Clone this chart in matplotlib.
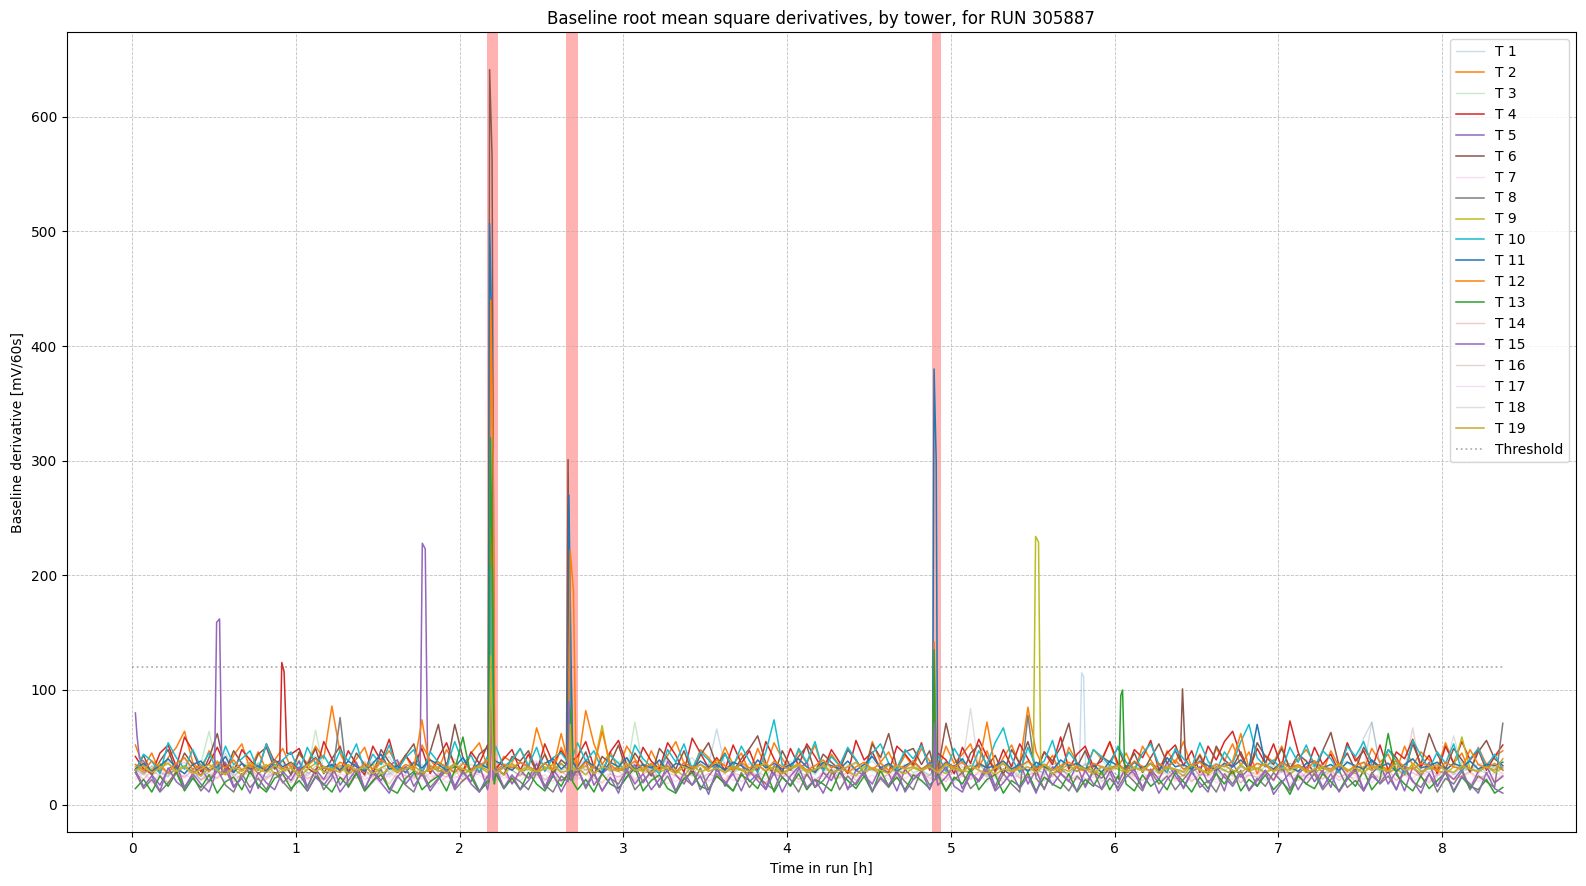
import numpy as np
import matplotlib
matplotlib.use("Agg")
import matplotlib.pyplot as plt
from matplotlib.ticker import MultipleLocator

# sampling grid of the baseline values [h]
t_grid = np.round(0.02 + 0.05 * np.arange(168), 3)

# baseline derivative per tower [mV/60s], one value per grid step
t1 = [30, 26, 33, 28, 24, 35, 31, 27, 22, 29, 38, 32, 26, 30, 41, 28, 24, 33, 36, 27, 31, 25, 34, 29,
      27, 35, 30, 23, 32, 38, 28, 26, 31, 44, 29, 25, 33, 30, 27, 36, 24, 31, 28, 34, 30, 26, 32, 37,
      29, 25, 33, 28, 35, 30, 26, 38, 31, 27, 34, 29, 24, 32, 36, 28, 30, 41, 27, 33, 29, 25, 35, 66,
      34, 28, 31, 26, 33, 30, 37, 27, 32, 29, 25, 34, 31, 28, 36, 30, 26, 33, 29, 38, 27, 31, 35, 28,
      30, 26, 34, 29, 32, 27, 36, 31, 25, 33, 30, 28, 35, 29, 32, 26, 38, 30, 27, 33, 31, 28, 34, 29,
      26, 32, 37, 29, 31, 27, 35, 30, 28, 33, 25, 31, 36, 29, 27, 34, 30, 32, 26, 38, 31, 28, 33, 29,
      35, 27, 30, 33, 28, 31, 58, 72, 34, 29, 32, 27, 36, 30, 28, 34, 31, 26, 33, 29, 35, 28, 31, 27]
t2 = [52, 33, 45, 28, 41, 50, 64, 37, 29, 47, 35, 27, 43, 53, 31, 46, 30, 39, 49, 32, 44, 36, 51, 40,
      86, 45, 30, 40, 50, 28, 38, 47, 34, 43, 29, 52, 39, 31, 48, 36, 27, 45, 54, 33, 30, 42, 37, 49,
      32, 67, 44, 29, 50, 39, 34, 82, 53, 35, 46, 30, 51, 40, 28, 47, 33, 43, 55, 36, 29, 48, 41, 31,
      50, 35, 45, 28, 49, 33, 54, 40, 30, 47, 36, 52, 29, 44, 34, 48, 39, 27, 55, 37, 46, 30, 43, 33,
      49, 38, 29, 51, 36, 44, 53, 32, 47, 28, 41, 52, 35, 85, 46, 31, 43, 27, 50, 37, 30, 48, 40, 54,
      33, 45, 29, 51, 39, 28, 47, 36, 55, 32, 44, 30, 49, 38, 53, 34, 46, 27, 43, 37, 51, 31, 40, 48,
      36, 28, 47, 33, 52, 41, 30, 49, 37, 44, 29, 51, 34, 46, 39, 31, 54, 36, 45, 28, 50, 35, 42, 47]
t3 = [28, 34, 25, 31, 38, 27, 33, 29, 36, 64, 30, 26, 35, 31, 24, 37, 29, 33, 27, 32, 39, 28, 65, 30,
      26, 33, 29, 36, 25, 31, 38, 27, 34, 30, 24, 35, 29, 32, 37, 26, 33, 28, 31, 36, 27, 34, 30, 25,
      33, 29, 37, 28, 31, 26, 35, 30, 34, 27, 32, 38, 29, 72, 33, 27, 31, 36, 28, 34, 30, 26, 35, 29,
      32, 27, 36, 30, 25, 34, 29, 33, 38, 28, 31, 26, 35, 30, 27, 33, 29, 36, 31, 25, 34, 28, 32, 37,
      29, 33, 26, 31, 35, 28, 30, 36, 27, 34, 29, 32, 25, 37, 30, 28, 33, 31, 26, 35, 29, 34, 27, 32,
      36, 28, 31, 33, 27, 35, 30, 26, 34, 29, 32, 37, 28, 31, 25, 33, 30, 36, 27, 34, 29, 32, 28, 35,
      30, 26, 33, 29, 37, 31, 27, 34, 28, 32, 36, 29, 31, 26, 35, 30, 33, 28, 37, 29, 31, 27, 34, 30]
t4 = [42, 31, 27, 45, 52, 33, 59, 47, 29, 36, 50, 34, 28, 48, 39, 30, 53, 37, 28, 44, 49, 32, 27, 55,
      40, 29, 47, 35, 26, 51, 38, 57, 30, 43, 33, 49, 27, 41, 54, 34, 29, 46, 36, 52, 31, 40, 48, 30,
      44, 28, 53, 36, 47, 30, 42, 55, 33, 27, 46, 56, 35, 29, 50, 38, 31, 54, 43, 28, 58, 45, 32, 41,
      30, 52, 36, 47, 29, 55, 40, 28, 49, 34, 53, 42, 30, 48, 37, 27, 56, 39, 46, 31, 28, 51, 44, 35,
      54, 30, 45, 39, 27, 50, 36, 57, 42, 29, 48, 33, 53, 40, 28, 46, 35, 59, 31, 44, 51, 33, 38, 55,
      36, 29, 48, 41, 56, 30, 45, 52, 34, 47, 28, 51, 39, 55, 64, 43, 30, 49, 36, 53, 32, 73, 46, 29,
      50, 35, 44, 28, 54, 38, 47, 31, 52, 30, 46, 40, 57, 33, 43, 27, 51, 36, 55, 39, 48, 30, 42, 52]
t5 = [80, 38, 26, 17, 31, 36, 15, 27, 33, 20, 29, 37, 16, 24, 34, 14, 30, 35, 19, 26, 38, 15, 31, 22,
      35, 17, 28, 37, 13, 30, 21, 34, 39, 18, 27, 14, 32, 24, 36, 16, 29, 20, 35, 13, 28, 33, 18, 30,
      23, 36, 15, 31, 21, 12, 29, 38, 17, 27, 34, 14, 24, 35, 19, 30, 15, 38, 26, 18, 32, 13, 25, 34,
      16, 30, 36, 20, 27, 14, 34, 24, 17, 31, 37, 15, 28, 21, 35, 13, 30, 25, 18, 33, 27, 12, 31, 22,
      29, 37, 17, 24, 34, 14, 28, 21, 36, 16, 31, 25, 38, 18, 30, 13, 33, 27, 20, 35, 15, 29, 23, 32,
      18, 34, 27, 14, 31, 22, 37, 25, 15, 29, 33, 19, 28, 12, 36, 24, 31, 16, 30, 21, 35, 14, 27, 33,
      20, 30, 15, 36, 24, 32, 13, 27, 35, 18, 29, 12, 33, 25, 37, 16, 28, 22, 31, 14, 29, 34, 19, 25]
t6 = [30, 43, 26, 38, 48, 28, 45, 35, 25, 41, 62, 29, 47, 36, 27, 44, 50, 31, 39, 26, 46, 34, 49, 27,
      40, 51, 28, 45, 35, 26, 48, 37, 30, 43, 53, 27, 46, 70, 32, 70, 41, 28, 44, 50, 33, 26, 42, 38,
      47, 30, 44, 27, 39, 50, 33, 46, 26, 42, 36, 52, 29, 45, 35, 25, 49, 40, 31, 47, 28, 43, 54, 34,
      45, 29, 40, 49, 60, 36, 26, 47, 33, 42, 51, 28, 44, 37, 30, 48, 39, 27, 53, 41, 62, 32, 46, 49,
      35, 47, 30, 71, 41, 27, 45, 52, 33, 43, 26, 48, 36, 55, 31, 46, 38, 50, 71, 33, 47, 29, 42, 37,
      50, 32, 45, 28, 41, 53, 36, 47, 48, 30, 43, 26, 51, 39, 33, 46, 29, 54, 42, 35, 49, 31, 44, 38,
      27, 47, 63, 34, 45, 30, 50, 38, 32, 48, 41, 28, 53, 35, 62, 44, 31, 49, 39, 29, 46, 56, 40, 34]
t7 = [22, 27, 19, 25, 30, 21, 26, 23, 28, 18, 24, 31, 22, 26, 20, 27, 23, 29, 21, 25, 18, 28, 24, 22,
      26, 20, 29, 23, 25, 19, 27, 24, 30, 21, 26, 22, 28, 18, 25, 23, 27, 20, 29, 24, 22, 26, 19, 28,
      23, 27, 21, 25, 30, 22, 24, 19, 28, 26, 20, 25, 23, 29, 21, 27, 24, 18, 26, 22, 28, 25, 20, 24,
      27, 21, 25, 29, 23, 19, 26, 24, 28, 22, 25, 20, 30, 23, 27, 21, 24, 26, 19, 28, 22, 25, 29, 23,
      20, 26, 24, 28, 21, 25, 23, 27, 19, 29, 22, 26, 24, 21, 28, 25, 20, 27, 23, 30, 22, 24, 26, 19,
      25, 28, 22, 24, 27, 20, 26, 23, 29, 21, 25, 28, 19, 24, 22, 27, 25, 30, 21, 26, 23, 18, 27, 24,
      22, 26, 29, 21, 25, 23, 27, 19, 28, 24, 22, 26, 20, 25, 29, 23, 21, 27, 24, 18, 26, 22, 28, 25]
t8 = [28, 14, 22, 11, 19, 29, 15, 25, 12, 21, 31, 17, 11, 27, 15, 23, 13, 28, 20, 12, 26, 16, 30, 13,
      23, 76, 15, 27, 12, 20, 31, 13, 25, 17, 11, 29, 15, 23, 32, 13, 21, 27, 12, 19, 30, 14, 25, 20,
      13, 28, 17, 11, 25, 20, 31, 14, 27, 12, 23, 18, 30, 13, 21, 28, 15, 25, 11, 23, 17, 32, 13, 27,
      20, 12, 28, 15, 25, 18, 13, 30, 22, 11, 27, 15, 21, 31, 13, 25, 17, 29, 12, 23, 15, 28, 20, 13,
      30, 17, 25, 12, 22, 28, 14, 21, 32, 13, 27, 18, 11, 78, 23, 14, 28, 20, 12, 25, 17, 30, 13, 23,
      15, 27, 20, 12, 29, 18, 25, 13, 22, 31, 15, 21, 11, 27, 18, 30, 13, 23, 16, 28, 20, 12, 26, 18,
      27, 13, 22, 30, 15, 21, 12, 28, 18, 25, 13, 31, 20, 15, 27, 11, 23, 18, 29, 13, 25, 20, 15, 71]
t9 = [33, 28, 31, 36, 27, 30, 34, 29, 25, 32, 38, 28, 31, 26, 33, 30, 35, 27, 29, 32, 24, 31, 36, 28,
      30, 34, 27, 31, 29, 35, 26, 32, 28, 33, 30, 25, 34, 29, 31, 36, 27, 30, 33, 28, 32, 26, 35, 29,
      31, 27, 33, 30, 36, 28, 32, 26, 34, 69, 30, 33, 27, 31, 29, 35, 28, 32, 30, 25, 34, 29, 31, 37,
      28, 32, 30, 26, 35, 29, 33, 27, 31, 34, 28, 30, 36, 27, 32, 29, 25, 33, 31, 28, 35, 30, 27, 32,
      29, 34, 31, 27, 33, 30, 28, 36, 32, 26, 31, 29, 34, 30, 28, 33, 27, 31, 35, 29, 32, 30, 26, 34,
      31, 28, 33, 29, 36, 27, 32, 30, 25, 34, 31, 28, 33, 30, 27, 35, 29, 32, 28, 31, 36, 26, 33, 30,
      28, 32, 29, 35, 31, 27, 33, 30, 34, 28, 31, 26, 36, 29, 32, 30, 27, 33, 59, 31, 29, 34, 28, 32]
t10 = [30, 44, 38, 27, 54, 41, 31, 48, 33, 45, 29, 51, 35, 40, 47, 30, 53, 34, 39, 46, 28, 50, 36, 43,
       31, 47, 38, 53, 29, 44, 35, 52, 30, 41, 48, 27, 46, 37, 32, 55, 36, 43, 28, 42, 51, 33, 39, 49,
       34, 50, 29, 41, 45, 31, 54, 38, 47, 30, 43, 36, 28, 52, 40, 33, 27, 48, 37, 53, 31, 46, 39, 29,
       44, 33, 51, 38, 28, 46, 74, 35, 30, 49, 37, 55, 29, 42, 34, 50, 39, 27, 45, 53, 36, 31, 48, 40,
       52, 32, 43, 29, 49, 37, 30, 47, 35, 54, 67, 41, 28, 50, 33, 38, 56, 31, 46, 36, 29, 48, 42, 34,
       51, 37, 30, 45, 53, 35, 28, 49, 40, 32, 54, 38, 29, 46, 36, 55, 70, 41, 33, 39, 30, 50, 37, 52,
       33, 47, 40, 28, 51, 42, 55, 35, 30, 48, 38, 27, 56, 43, 31, 46, 36, 53, 29, 40, 49, 33, 44, 30]
t11 = [31, 36, 29, 34, 40, 32, 27, 35, 38, 30, 33, 42, 28, 36, 31, 34, 29, 39, 33, 37, 30, 35, 41, 32,
       35, 30, 38, 33, 29, 36, 44, 31, 34, 28, 37, 32, 39, 35, 30, 33, 41, 29, 36, 32, 38, 34, 30, 37,
       33, 29, 36, 40, 31, 35, 30, 38, 34, 28, 37, 33, 41, 30, 35, 32, 39, 29, 36, 34, 31, 38, 33, 35,
       30, 37, 34, 29, 39, 32, 36, 31, 35, 40, 33, 28, 37, 34, 31, 38, 30, 35, 42, 32, 36, 29, 34, 38,
       31, 35, 30, 37, 33, 40, 29, 36, 32, 34, 38, 31, 35, 29, 37, 33, 30, 39, 34, 36, 31, 35, 28, 38,
       34, 30, 37, 32, 36, 29, 41, 33, 35, 31, 38, 34, 30, 36, 33, 39, 32, 70, 35, 31, 37, 33, 29, 36,
       38, 32, 35, 30, 37, 34, 31, 39, 33, 36, 29, 35, 40, 32, 34, 37, 30, 36, 33, 38, 31, 35, 34, 37]
t12 = [35, 30, 38, 33, 28, 36, 41, 31, 34, 29, 37, 32, 39, 30, 35, 27, 33, 38, 31, 36, 29, 34, 40, 32,
       30, 37, 33, 28, 36, 31, 39, 34, 29, 35, 32, 74, 30, 37, 33, 28, 36, 31, 34, 39, 30, 35, 32, 37,
       33, 29, 36, 31, 62, 34, 30, 37, 32, 64, 35, 29, 33, 38, 31, 36, 30, 34, 28, 37, 32, 35, 31, 39,
       34, 30, 37, 32, 35, 29, 38, 33, 31, 36, 30, 34, 39, 32, 35, 28, 33, 37, 31, 36, 30, 34, 32, 38,
       31, 35, 29, 36, 33, 37, 30, 34, 72, 32, 36, 29, 33, 38, 31, 35, 30, 34, 37, 32, 29, 36, 33, 31,
       35, 30, 38, 33, 29, 36, 32, 39, 31, 34, 37, 30, 35, 33, 38, 62, 31, 36, 34, 29, 37, 32, 35, 30,
       38, 33, 31, 36, 29, 34, 37, 32, 35, 30, 39, 33, 31, 36, 34, 29, 37, 33, 31, 48, 35, 32, 36, 30]
t13 = [14, 22, 11, 25, 16, 28, 12, 23, 15, 26, 10, 20, 24, 13, 29, 17, 11, 23, 27, 14, 21, 12, 25, 18,
       11, 24, 16, 28, 12, 21, 26, 14, 10, 23, 29, 13, 20, 25, 12, 30, 59, 24, 11, 21, 27, 14, 23, 13,
       28, 18, 12, 25, 16, 30, 13, 22, 11, 27, 18, 14, 24, 32, 12, 21, 26, 14, 10, 23, 28, 16, 13, 25,
       18, 12, 26, 21, 14, 29, 11, 24, 16, 27, 13, 22, 18, 12, 28, 21, 14, 25, 11, 30, 16, 24, 13, 26,
       21, 14, 27, 12, 24, 18, 31, 13, 22, 26, 10, 21, 16, 28, 12, 24, 18, 14, 27, 11, 22, 16, 29, 13,
       25, 18, 12, 26, 16, 22, 13, 28, 20, 11, 24, 14, 27, 18, 30, 12, 22, 16, 26, 13, 21, 9, 25, 18,
       14, 27, 20, 12, 24, 16, 30, 13, 22, 62, 26, 18, 12, 25, 14, 21, 28, 11, 24, 16, 13, 22, 10, 15]
t14 = [27, 22, 30, 25, 19, 28, 24, 31, 21, 26, 23, 29, 20, 27, 32, 24, 22, 28, 25, 19, 30, 23, 26, 21,
       29, 24, 20, 27, 31, 22, 26, 18, 28, 25, 23, 30, 21, 27, 24, 32, 20, 26, 29, 22, 25, 28, 19, 27,
       24, 30, 22, 26, 20, 28, 25, 31, 23, 19, 27, 24, 29, 21, 26, 33, 22, 28, 25, 20, 30, 23, 27, 24,
       21, 28, 25, 30, 23, 19, 27, 24, 31, 22, 26, 20, 28, 25, 23, 29, 21, 27, 32, 24, 26, 22, 30, 25,
       28, 23, 26, 20, 31, 25, 22, 29, 24, 27, 19, 30, 23, 26, 28, 21, 25, 32, 24, 22, 27, 30, 20, 26,
       23, 29, 25, 21, 28, 24, 31, 22, 26, 20, 27, 25, 30, 23, 28, 19, 26, 24, 29, 22, 31, 25, 21, 28,
       26, 22, 30, 24, 27, 20, 29, 25, 23, 31, 21, 26, 28, 24, 19, 27, 30, 22, 25, 29, 23, 26, 20, 24]
t15 = [30, 16, 25, 12, 32, 20, 14, 27, 18, 11, 25, 31, 15, 23, 10, 28, 19, 13, 29, 21, 33, 12, 24, 17,
       27, 11, 21, 31, 14, 28, 19, 10, 24, 33, 16, 27, 12, 22, 30, 14, 29, 18, 11, 25, 32, 15, 26, 13,
       21, 30, 14, 27, 11, 19, 32, 16, 28, 12, 24, 10, 31, 18, 27, 13, 22, 30, 12, 28, 17, 25, 9, 31,
       18, 27, 12, 29, 21, 13, 28, 11, 25, 33, 15, 22, 10, 27, 31, 14, 19, 29, 12, 24, 17, 30, 11, 22,
       29, 13, 24, 33, 16, 11, 27, 20, 30, 12, 19, 28, 14, 25, 10, 31, 17, 27, 21, 12, 30, 18, 14, 29,
       12, 24, 31, 15, 27, 10, 22, 30, 14, 28, 19, 11, 33, 24, 16, 27, 12, 21, 30, 9, 19, 28, 13, 25,
       31, 15, 27, 11, 22, 30, 12, 25, 19, 29, 13, 33, 21, 10, 27, 16, 30, 12, 25, 18, 10, 28, 14, 10]
t16 = [31, 27, 34, 29, 25, 33, 37, 28, 32, 26, 30, 35, 24, 31, 28, 36, 30, 26, 33, 29, 38, 27, 31, 34,
       28, 32, 26, 35, 30, 24, 33, 29, 37, 27, 31, 25, 34, 30, 28, 36, 26, 32, 29, 35, 27, 33, 30, 25,
       34, 29, 31, 26, 36, 30, 28, 33, 25, 35, 29, 32, 27, 37, 30, 26, 34, 31, 28, 33, 25, 36, 29, 32,
       27, 33, 30, 36, 28, 25, 34, 29, 31, 26, 37, 30, 33, 28, 24, 35, 31, 27, 32, 29, 36, 26, 30, 34,
       29, 25, 35, 31, 27, 33, 30, 38, 26, 32, 28, 34, 29, 31, 25, 36, 30, 27, 33, 29, 35, 26, 32, 28,
       33, 30, 26, 34, 29, 36, 27, 31, 28, 35, 25, 32, 30, 37, 27, 33, 29, 26, 34, 31, 28, 36, 30, 24,
       31, 35, 28, 33, 26, 30, 37, 29, 32, 27, 34, 30, 67, 28, 33, 25, 31, 36, 29, 32, 27, 34, 30, 33]
t17 = [24, 29, 21, 26, 19, 27, 23, 30, 22, 25, 28, 20, 26, 23, 31, 21, 24, 27, 19, 25, 29, 22, 26, 23,
       20, 27, 24, 29, 22, 25, 18, 28, 23, 26, 21, 30, 24, 27, 19, 25, 22, 28, 26, 20, 29, 23, 25, 21,
       27, 23, 26, 20, 29, 24, 22, 28, 19, 25, 27, 21, 30, 23, 26, 22, 28, 24, 20, 27, 25, 29, 21, 26,
       23, 28, 20, 25, 27, 22, 30, 24, 26, 19, 28, 23, 25, 21, 29, 24, 27, 22, 26, 20, 28, 25, 23, 27,
       26, 21, 28, 24, 19, 27, 25, 22, 30, 23, 26, 20, 28, 25, 22, 27, 24, 29, 21, 26, 23, 19, 28, 25,
       22, 27, 24, 29, 21, 25, 28, 20, 26, 23, 30, 24, 22, 27, 25, 19, 28, 23, 26, 21, 29, 24, 27, 22,
       28, 23, 26, 21, 29, 25, 22, 27, 24, 20, 28, 26, 23, 30, 21, 25, 27, 22, 24, 28, 20, 26, 23, 25]
t18 = [35, 29, 38, 31, 27, 34, 40, 30, 36, 28, 33, 45, 31, 37, 29, 35, 32, 39, 28, 34, 30, 37, 43, 31,
       36, 30, 34, 28, 38, 32, 35, 42, 29, 33, 37, 31, 36, 28, 34, 40, 30, 35, 32, 38, 29, 36, 33, 31,
       34, 38, 30, 35, 29, 37, 33, 40, 31, 36, 28, 34, 39, 32, 35, 30, 37, 33, 29, 36, 41, 31, 35, 30,
       37, 32, 35, 29, 38, 34, 31, 36, 30, 39, 33, 28, 35, 37, 32, 30, 36, 34, 38, 31, 35, 29, 33, 37,
       31, 36, 33, 38, 30, 35, 84, 32, 37, 29, 34, 36, 31, 38, 33, 30, 35, 37, 32, 29, 36, 34, 39, 31,
       35, 30, 38, 33, 36, 29, 34, 37, 31, 35, 40, 32, 36, 30, 34, 38, 33, 31, 37, 35, 29, 36, 33, 39,
       32, 36, 30, 35, 38, 33, 31, 72, 34, 37, 30, 35, 39, 32, 36, 30, 34, 60, 33, 31, 36, 35, 32, 34]
t19 = [30, 34, 28, 32, 36, 29, 33, 27, 31, 35, 30, 26, 33, 29, 37, 31, 28, 34, 30, 32, 27, 35, 29, 33,
       31, 28, 35, 30, 33, 27, 32, 36, 29, 31, 34, 28, 30, 33, 27, 35, 31, 29, 34, 30, 28, 32, 36, 30,
       33, 29, 31, 35, 28, 32, 30, 34, 27, 33, 31, 29, 36, 30, 32, 28, 34, 31, 27, 33, 30, 35, 29, 32,
       28, 34, 31, 29, 33, 36, 30, 27, 32, 35, 29, 31, 34, 28, 30, 33, 37, 29, 32, 30, 27, 34, 31, 33,
       30, 33, 28, 35, 31, 29, 34, 30, 27, 32, 36, 29, 31, 33, 28, 35, 30, 32, 29, 34, 31, 27, 33, 30,
       34, 29, 32, 30, 36, 28, 33, 31, 29, 35, 30, 27, 32, 34, 30, 28, 33, 31, 36, 29, 32, 30, 34, 28,
       31, 33, 29, 35, 30, 32, 28, 34, 31, 29, 36, 30, 33, 27, 32, 35, 30, 28, 34, 31, 29, 33, 30, 40]

# short bursts (time [h], value)
t1_bursts = [[(2.18, 30), (2.19, 90), (2.205, 32)], [(5.785, 33), (5.798, 115), (5.81, 112), (5.822, 35)]]
t2_bursts = [[(2.185, 38), (2.195, 260), (2.21, 40)], [(2.668, 36), (2.68, 120), (2.692, 40)],
             [(4.89, 38), (4.9, 90), (4.912, 40)]]
t3_bursts = [[(2.18, 30), (2.19, 120), (2.205, 31)], [(2.662, 30), (2.67, 60), (2.68, 31)]]
t4_bursts = [[(0.902, 38), (0.914, 124), (0.928, 116), (0.945, 45)], [(2.18, 36), (2.19, 130), (2.205, 38)],
             [(2.665, 37), (2.672, 70), (2.682, 38)], [(4.892, 37), (4.9, 60), (4.91, 38)]]
t5_bursts = [[(0.03, 60), (0.045, 40)], [(1.758, 27), (1.772, 228), (1.79, 223), (1.805, 29)],
             [(2.185, 25), (2.195, 85), (2.21, 26)], [(2.662, 25), (2.67, 60), (2.68, 26)],
             [(4.892, 24), (4.9, 55), (4.91, 25)]]
t6_bursts = [[(2.175, 34), (2.183, 641), (2.198, 565), (2.212, 36)], [(2.652, 35), (2.662, 301), (2.675, 60), (2.685, 37)],
             [(4.89, 35), (4.9, 89), (4.912, 36)], [(6.4, 38), (6.414, 101), (6.432, 40)]]
t7_bursts = [[(2.18, 23), (2.19, 70), (2.205, 24)]]
t8_bursts = [[(2.18, 20), (2.19, 110), (2.205, 21)], [(2.662, 20), (2.67, 55), (2.68, 21)]]
t9_bursts = [[(2.18, 30), (2.19, 150), (2.205, 31)], [(2.665, 30), (2.672, 80), (2.682, 31)],
             [(4.892, 30), (4.9, 50), (4.91, 31)], [(5.503, 32), (5.517, 234), (5.535, 229), (5.548, 33)]]
t10_bursts = [[(2.182, 36), (2.192, 210), (2.206, 38)], [(2.662, 37), (2.67, 110), (2.68, 38)],
              [(4.892, 36), (4.9, 60), (4.91, 37)]]
t11_bursts = [[(2.175, 35), (2.183, 507), (2.198, 400), (2.21, 40)], [(2.658, 36), (2.667, 270), (2.68, 130), (2.69, 38)],
              [(4.888, 38), (4.897, 380), (4.91, 300), (4.918, 36)]]
t12_bursts = [[(2.183, 36), (2.19, 440), (2.205, 300), (2.215, 38)], [(2.665, 35), (2.675, 222), (2.695, 186), (2.71, 40)],
              [(4.89, 35), (4.898, 142), (4.91, 40)]]
t13_bursts = [[(2.178, 20), (2.188, 320), (2.2, 200), (2.212, 18)], [(2.672, 22), (2.68, 85), (2.69, 20)],
              [(4.888, 20), (4.897, 135), (4.908, 22)], [(6.025, 22), (6.037, 95), (6.048, 100), (6.062, 24)]]
t14_bursts = [[(2.18, 25), (2.19, 95), (2.205, 26)]]
t15_bursts = [[(0.503, 24), (0.516, 159), (0.534, 162), (0.548, 26)], [(2.18, 22), (2.19, 100), (2.205, 23)],
              [(2.66, 22), (2.668, 90), (2.678, 23)], [(4.892, 21), (4.9, 71), (4.91, 22)]]
t16_bursts = [[(2.18, 30), (2.19, 85), (2.205, 31)]]
t17_bursts = [[(2.18, 24), (2.19, 75), (2.205, 25)]]
t18_bursts = [[(2.18, 32), (2.19, 110), (2.205, 33)]]
t19_bursts = [[(2.18, 30), (2.19, 130), (2.205, 31)], [(2.668, 30), (2.675, 70), (2.685, 31)]]

tower_names = ["T %d" % i for i in range(1, 20)]
tower_values = [t1, t2, t3, t4, t5, t6, t7, t8, t9, t10, t11, t12, t13, t14, t15, t16, t17, t18, t19]
tower_bursts = [t1_bursts, t2_bursts, t3_bursts, t4_bursts, t5_bursts, t6_bursts, t7_bursts, t8_bursts,
                t9_bursts, t10_bursts, t11_bursts, t12_bursts, t13_bursts, t14_bursts, t15_bursts,
                t16_bursts, t17_bursts, t18_bursts, t19_bursts]

threshold = 120
threshold_range = (0.0, 8.37)
flagged = [(2.17, 2.235), (2.652, 2.72), (4.882, 4.937)]

colors = ["tab:blue", "tab:orange", "tab:green", "tab:red", "tab:purple", "tab:brown", "tab:pink",
          "tab:gray", "tab:olive", "tab:cyan", "tab:blue", "tab:orange", "tab:green", "tab:red",
          "tab:purple", "tab:brown", "tab:pink", "tab:gray", "#c9aa2c"]
faint = {"T 1", "T 3", "T 7", "T 14", "T 16", "T 17", "T 18"}


def merged(values, bursts):
    n = min(len(values), len(t_grid))
    v = np.array(values[:n], dtype=float)
    t = t_grid[:n]
    for grp in bursts:
        gt = np.array([p[0] for p in grp])
        gv = np.array([p[1] for p in grp], dtype=float)
        keep = (t < gt.min()) | (t > gt.max())
        t = np.concatenate([t[keep], gt])
        v = np.concatenate([v[keep], gv])
        order = np.argsort(t, kind="stable")
        t, v = t[order], v[order]
    return t, v


fig, ax = plt.subplots(figsize=(15.86, 8.86), dpi=100)
fig.subplots_adjust(left=0.042, right=0.9935, bottom=0.0605, top=0.9635)

for a, b in flagged:
    ax.axvspan(a, b, color="red", alpha=0.3, lw=0)

for name, vals, bursts, col in zip(tower_names, tower_values, tower_bursts, colors):
    t, v = merged(vals, bursts)
    if name in faint:
        ax.plot(t, v, color=col, lw=1.0, alpha=0.25, label=name)
    else:
        ax.plot(t, v, color=col, lw=1.1, label=name)

ax.plot(threshold_range, [threshold, threshold], color="gray", ls=":", lw=1.3, alpha=0.6, label="Threshold")

ax.set_xlim(-0.40, 8.815)
ax.set_ylim(-24.2, 673.6)
ax.xaxis.set_major_locator(MultipleLocator(1))
ax.grid(True, ls="--", lw=0.6, alpha=0.8)
ax.set_title("Baseline root mean square derivatives, by tower, for RUN 305887")
ax.set_xlabel("Time in run [h]")
ax.set_ylabel("Baseline derivative [mV/60s]")
ax.legend(loc="upper right")

fig.savefig("out.png", dpi=100)
